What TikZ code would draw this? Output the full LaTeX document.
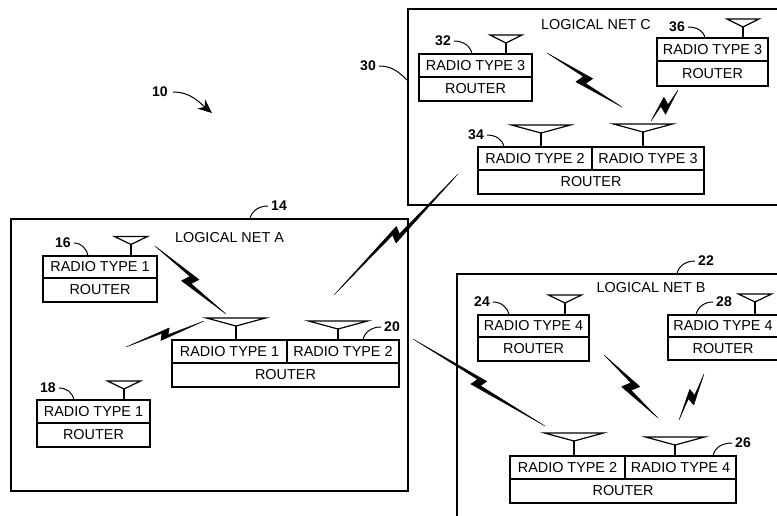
\documentclass[tikz,border=0pt]{standalone}
\usepackage{fontspec}
\setmainfont{Liberation Sans}
\usetikzlibrary{calc,arrows.meta}
\tikzset{
  line/.style={line width=1.2pt, black},
  cell/.style={line, draw, inner sep=0pt, outer sep=0pt, font=\fontsize{14.4}{16}\selectfont},
  tag/.style={inner sep=3pt, font=\fontsize{14}{15}\selectfont\bfseries},
  title/.style={inner sep=0pt, font=\fontsize{14.4}{16}\selectfont},
  lead/.style={line width=1pt}
}
% antenna: name, x, y of top edge, half width
\newcommand{\antenna}[4]{
  \coordinate (#1) at (#2,#3+8);
  \draw[line] (#2-#4,#3) -- (#2+#4,#3) -- (#1) -- cycle;
}
% radio link: from, to, offset
\newcommand{\zap}[3]{
  \fill[draw, line width=.3pt, line join=round] (#1)
    -- ($(#1)!.5!(#2)!6pt!(#2)!#3!90:(#2)$)
    -- ($(#1)!.5!(#2)!3pt!(#2)!-.35*#3!90:(#2)$)
    -- (#2)
    -- ($(#1)!.5!(#2)!-6pt!(#2)!-1.1*#3!90:(#2)$)
    -- ($(#1)!.5!(#2)!-3pt!(#2)!.35*#3!90:(#2)$)
    -- cycle;
}
\begin{document}
\begin{tikzpicture}[x=1pt, y=-1pt, >={Stealth[length=14pt,width=12pt]}]
  \useasboundingbox (0,0) rectangle (777,515);

  % logical nets
  \draw[line] (11,219) rectangle (408,491);
  \draw[line] (778,9) -- (408,9) -- (408,205) -- (778,205);
  \draw[line] (778,274) -- (457,274) -- (457,516);
  \node[title] (titleA) at (229.5,238) {LOGICAL NET A};
  \node[title] (titleB) at (651,288) {LOGICAL NET B};
  \node[title] (titleC) at (596,25) {LOGICAL NET C};

  % net A
  \node[cell, minimum width=114pt, minimum height=22pt] (r16) at (100,267) {RADIO TYPE 1};
  \node[cell, minimum width=114pt, minimum height=24pt] (c16) at (100,290) {ROUTER};
  \node[cell, minimum width=113pt, minimum height=23pt] (r18) at (93.5,411.5) {RADIO TYPE 1};
  \node[cell, minimum width=113pt, minimum height=24pt] (c18) at (93.5,435) {ROUTER};
  \node[cell, minimum width=115pt, minimum height=23pt] (r20a) at (229.5,351.5) {RADIO TYPE 1};
  \node[cell, minimum width=112pt, minimum height=23pt] (r20b) at (343,351.5) {RADIO TYPE 2};
  \node[cell, minimum width=227pt, minimum height=24pt] (c20) at (285.5,375) {ROUTER};

  % net C
  \node[cell, minimum width=113pt, minimum height=23pt] (r32) at (475.5,65.5) {RADIO TYPE 3};
  \node[cell, minimum width=113pt, minimum height=24pt] (c32) at (475.5,89) {ROUTER};
  \node[cell, minimum width=111pt, minimum height=23pt] (r36) at (712.5,49.5) {RADIO TYPE 3};
  \node[cell, minimum width=111pt, minimum height=25pt] (c36) at (712.5,73.5) {ROUTER};
  \node[cell, minimum width=114pt, minimum height=23pt] (r34a) at (535,158.5) {RADIO TYPE 2};
  \node[cell, minimum width=112pt, minimum height=23pt] (r34b) at (648,158.5) {RADIO TYPE 3};
  \node[cell, minimum width=226pt, minimum height=24pt] (c34) at (591,182) {ROUTER};

  % net B
  \node[cell, minimum width=111pt, minimum height=22pt] (r24) at (533.5,326) {RADIO TYPE 4};
  \node[cell, minimum width=111pt, minimum height=24pt] (c24) at (533.5,349) {ROUTER};
  \node[cell, minimum width=110pt, minimum height=22pt] (r28) at (723,326) {RADIO TYPE 4};
  \node[cell, minimum width=110pt, minimum height=23pt] (c28) at (723,348.5) {ROUTER};
  \node[cell, minimum width=115pt, minimum height=23pt] (r26a) at (567.5,467.5) {RADIO TYPE 2};
  \node[cell, minimum width=111pt, minimum height=23pt] (r26b) at (680.5,467.5) {RADIO TYPE 4};
  \node[cell, minimum width=226pt, minimum height=24pt] (c26) at (623,491) {ROUTER};

  % antennas
  \antenna{a16}{131}{236.5}{16.5}
  \antenna{a18}{124}{381}{16.5}
  \antenna{a20a}{236}{318}{29.5}
  \antenna{a20b}{338}{321}{29.5}
  \antenna{a32}{506}{35}{16}
  \antenna{a36}{743}{19}{16}
  \antenna{a34a}{541}{125}{29.5}
  \antenna{a34b}{643}{124}{29.5}
  \antenna{a24}{565}{295}{16.5}
  \antenna{a28}{755}{294}{16.5}
  \antenna{a26a}{574}{433}{29.5}
  \antenna{a26b}{675}{437}{29.5}
  \draw[line] (a16) -- (a16 |- r16.north);
  \draw[line] (a18) -- (a18 |- r18.north);
  \draw[line] (a20a) -- (a20a |- r20a.north);
  \draw[line] (a20b) -- (a20b |- r20b.north);
  \draw[line] (a32) -- (a32 |- r32.north);
  \draw[line] (a36) -- (a36 |- r36.north);
  \draw[line] (a34a) -- (a34a |- r34a.north);
  \draw[line] (a34b) -- (a34b |- r34b.north);
  \draw[line] (a24) -- (a24 |- r24.north);
  \draw[line] (a28) -- (a28 |- r28.north);
  \draw[line] (a26a) -- (a26a |- r26a.north);
  \draw[line] (a26b) -- (a26b |- r26b.north);

  % radio links
  \coordinate (z1a) at (155,246);  \coordinate (z1b) at (226,314);
  \coordinate (z2a) at (126,347);  \coordinate (z2b) at (204,321);
  \coordinate (z3a) at (334,295);  \coordinate (z3b) at (458,174);
  \coordinate (z4a) at (547,53);   \coordinate (z4b) at (622,107);
  \coordinate (z5a) at (651,121);  \coordinate (z5b) at (678,90);
  \coordinate (z6a) at (413,339);  \coordinate (z6b) at (545,426);
  \coordinate (z7a) at (604,355);  \coordinate (z7b) at (658,418);
  \coordinate (z8a) at (679,420);  \coordinate (z8b) at (704,374);
  \zap{z1a}{z1b}{6.2pt}
  \zap{z2a}{z2b}{4.5pt}
  \zap{z3a}{z3b}{5.6pt}
  \zap{z4a}{z4b}{6pt}
  \zap{z5a}{z5b}{6pt}
  \zap{z6a}{z6b}{5.3pt}
  \zap{z7a}{z7b}{6.7pt}
  \zap{z8a}{z8b}{5.3pt}

  % reference numbers
  \node[tag] (n10) at (160,92) {10};
  \node[tag] (n14) at (279,206) {14};
  \node[tag] (n16) at (63,243) {16};
  \node[tag] (n18) at (48,388) {18};
  \node[tag] (n20) at (392,327) {20};
  \node[tag] (n22) at (706,261) {22};
  \node[tag] (n24) at (482,302) {24};
  \node[tag] (n26) at (743,443) {26};
  \node[tag] (n28) at (724,302) {28};
  \node[tag] (n30) at (368,66) {30};
  \node[tag] (n32) at (443,41) {32};
  \node[tag] (n34) at (476,135) {34};
  \node[tag] (n36) at (677,27) {36};

  \coordinate (e10) at (212,113);
  \coordinate (e14) at (250,219);
  \coordinate (e16) at (88,256);
  \coordinate (e18) at (74,400);
  \coordinate (e20) at (363,340);
  \coordinate (e22) at (677,274);
  \coordinate (e24) at (509,315);
  \coordinate (e26) at (713,456);
  \coordinate (e28) at (696,315);
  \coordinate (e30) at (407,80);
  \coordinate (e32) at (472,54);
  \coordinate (e34) at (504,147);
  \coordinate (e36) at (705,38);
  \draw[lead, ->] (n10) ++(13,0) to[out=0, in=140] (e10);
  \draw[lead] (n14.west) to[out=180, in=80] (e14);
  \draw[lead] (n16.east) to[out=0, in=100] (e16);
  \draw[lead] (n18.east) to[out=0, in=100] (e18);
  \draw[lead] (n20.west) to[out=180, in=80] (e20);
  \draw[lead] (n22.west) to[out=180, in=80] (e22);
  \draw[lead] (n24.east) to[out=0, in=100] (e24);
  \draw[lead] (n26.west) to[out=180, in=80] (e26);
  \draw[lead] (n28.west) to[out=180, in=80] (e28);
  \draw[lead] (n30.east) to[out=0, in=135] (e30);
  \draw[lead] (n32.east) to[out=0, in=100] (e32);
  \draw[lead] (n34.east) to[out=0, in=100] (e34);
  \draw[lead] (n36.east) to[out=0, in=100] (e36);
\end{tikzpicture}
\end{document}
